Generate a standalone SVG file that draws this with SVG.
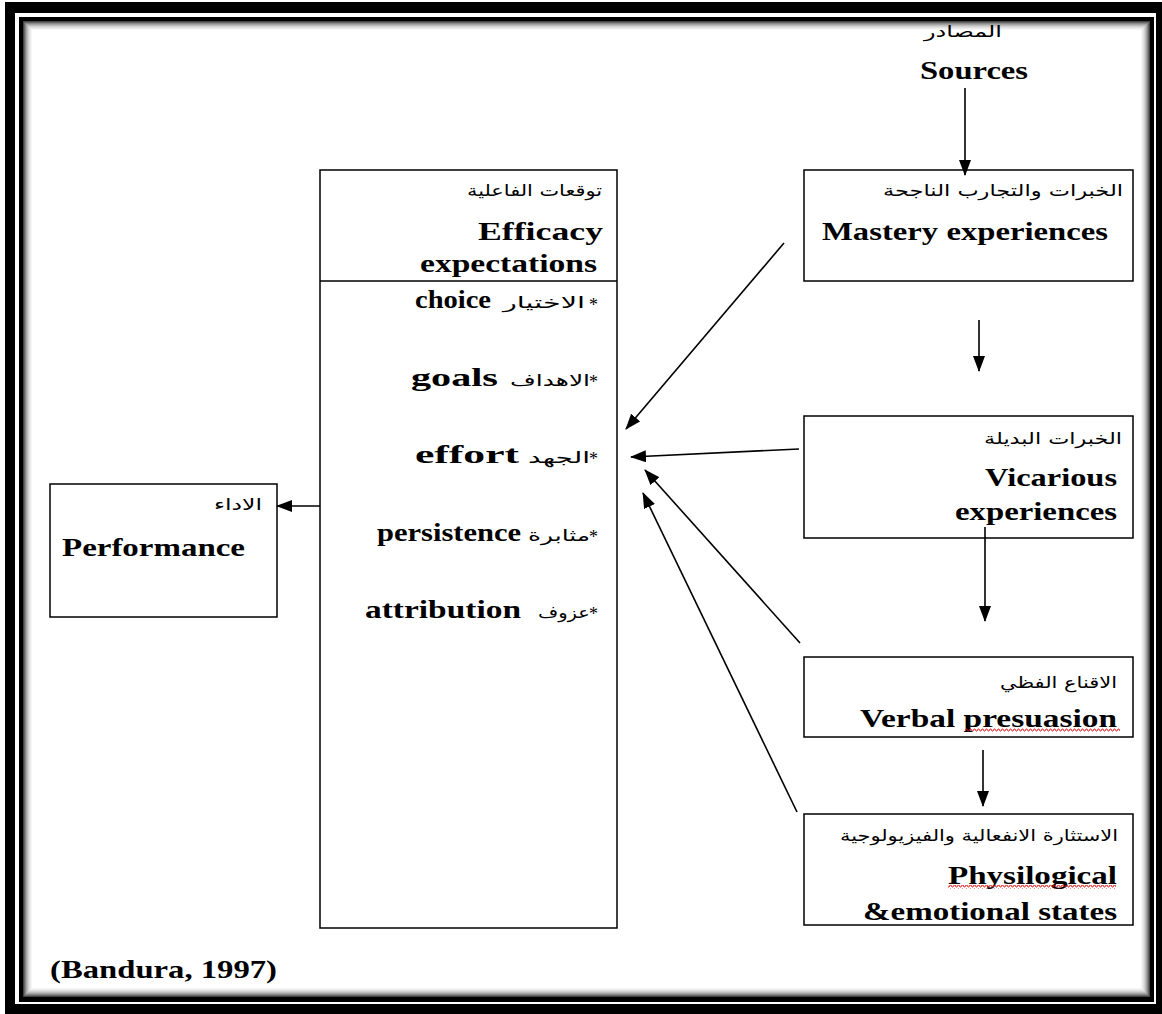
<svg xmlns="http://www.w3.org/2000/svg" width="1162" height="1014" viewBox="0 0 1162 1014">
<style>
.box{fill:#fff;stroke:#000;stroke-width:1.5}
.en{font-family:"Liberation Serif","Times New Roman",serif;font-weight:bold;font-size:25px;fill:#000}
.ar{font-family:"DejaVu Sans","Noto Sans",sans-serif;font-size:16px;fill:#000}
.st{font-family:"Liberation Serif",serif;font-size:18px;fill:#000}
.ln{stroke:#000;stroke-width:1.6;fill:none}
.sq{fill:url(#squig)}
</style>
<defs>
<marker id="ah" markerUnits="userSpaceOnUse" markerWidth="16" markerHeight="12" refX="15" refY="6" orient="auto">
<path d="M0,0 L16,6 L0,12 Z" fill="#000"/>
</marker>
<pattern id="squig" patternUnits="userSpaceOnUse" width="4" height="4">
<polyline points="0,3 1,3 2,1 3,1 4,3" fill="none" stroke="#e01010" stroke-width="0.9"/>
</pattern>
</defs>
<g id="frame">
<rect x="5" y="2" width="1157" height="1012" fill="#000"/>
<rect x="15" y="13" width="1141" height="991" fill="#fff"/>
<rect x="19" y="17" width="1135" height="985" fill="#000"/>
<rect x="23" y="21" width="1127" height="976" fill="#fff"/>
<rect x="23.5" y="21.5" width="1126" height="975" fill="none" stroke="#444"/>
<rect x="24.5" y="22.5" width="1124" height="973" fill="none" stroke="#666"/>
<rect x="25.5" y="23.5" width="1122" height="971" fill="none" stroke="#888"/>
<rect x="26.5" y="24.5" width="1120" height="969" fill="none" stroke="#a4a4a4"/>
<rect x="27.5" y="25.5" width="1118" height="967" fill="none" stroke="#bcbcbc"/>
<rect x="28.5" y="26.5" width="1116" height="965" fill="none" stroke="#d0d0d0"/>
<rect x="29.5" y="27.5" width="1114" height="963" fill="none" stroke="#e0e0e0"/>
<rect x="30.5" y="28.5" width="1112" height="961" fill="none" stroke="#ececec"/>
<rect x="31.5" y="29.5" width="1110" height="959" fill="none" stroke="#f6f6f6"/>
</g>
<g id="sources">
<text class="ar" x="963" y="37" text-anchor="middle" font-size="19" textLength="78" lengthAdjust="spacingAndGlyphs">المصادر</text>
<text class="en" x="920" y="79" textLength="108" lengthAdjust="spacingAndGlyphs">Sources</text>
</g>
<g id="efficacy">
<rect class="box" x="320" y="170" width="297" height="758"/>
<line x1="320" y1="281" x2="617" y2="281" stroke="#000" stroke-width="1.5"/>
<text class="ar" x="602" y="196" text-anchor="end" textLength="135" lengthAdjust="spacingAndGlyphs">توقعات الفاعلية</text>
<text class="en" x="603" y="240" text-anchor="end" textLength="125" lengthAdjust="spacingAndGlyphs">Efficacy</text>
<text class="en" x="597" y="272" text-anchor="end" textLength="177" lengthAdjust="spacingAndGlyphs">expectations</text>
<text class="st" x="598" y="311" text-anchor="end">*</text>
<text class="ar" x="585" y="308" text-anchor="end" textLength="82" lengthAdjust="spacingAndGlyphs">الاختيار</text>
<text class="en" x="491" y="308" text-anchor="end" textLength="76" lengthAdjust="spacingAndGlyphs">choice</text>
<text class="st" x="598" y="388" text-anchor="end">*</text>
<text class="ar" x="590" y="386" text-anchor="end" textLength="80" lengthAdjust="spacingAndGlyphs">الاهداف</text>
<text class="en" x="498" y="386" text-anchor="end" textLength="87" lengthAdjust="spacingAndGlyphs">goals</text>
<text class="st" x="598" y="465" text-anchor="end">*</text>
<text class="ar" x="590" y="463" text-anchor="end" textLength="62" lengthAdjust="spacingAndGlyphs">الجهد</text>
<text class="en" x="519" y="463" text-anchor="end" textLength="104" lengthAdjust="spacingAndGlyphs">effort</text>
<text class="st" x="598" y="543" text-anchor="end">*</text>
<text class="ar" x="590" y="541" text-anchor="end" textLength="62" lengthAdjust="spacingAndGlyphs">مثابرة</text>
<text class="en" x="521" y="541" text-anchor="end" textLength="144" lengthAdjust="spacingAndGlyphs">persistence</text>
<text class="st" x="598" y="620" text-anchor="end">*</text>
<text class="ar" x="590" y="618" text-anchor="end" textLength="52" lengthAdjust="spacingAndGlyphs">عزوف</text>
<text class="en" x="521" y="618" text-anchor="end" textLength="156" lengthAdjust="spacingAndGlyphs">attribution</text>
</g>
<g id="performance">
<rect class="box" x="50" y="484" width="227" height="133"/>
<text class="ar" x="262" y="510" text-anchor="end" textLength="48" lengthAdjust="spacingAndGlyphs">الاداء</text>
<text class="en" x="62" y="556" textLength="183" lengthAdjust="spacingAndGlyphs">Performance</text>
</g>
<g id="mastery">
<rect class="box" x="804" y="170" width="329" height="111"/>
<text class="ar" x="1123" y="196" text-anchor="end" textLength="240" lengthAdjust="spacingAndGlyphs">الخبرات والتجارب الناجحة</text>
<text class="en" x="822" y="240" textLength="286" lengthAdjust="spacingAndGlyphs">Mastery experiences</text>
</g>
<g id="vicarious">
<rect class="box" x="804" y="416" width="329" height="122"/>
<text class="ar" x="1122" y="444" text-anchor="end" textLength="138" lengthAdjust="spacingAndGlyphs">الخبرات البديلة</text>
<text class="en" x="1117" y="486" text-anchor="end" textLength="132" lengthAdjust="spacingAndGlyphs">Vicarious</text>
<text class="en" x="1117" y="520" text-anchor="end" textLength="162" lengthAdjust="spacingAndGlyphs">experiences</text>
</g>
<g id="verbal">
<rect class="box" x="804" y="657" width="329" height="80"/>
<text class="ar" x="1117" y="688" text-anchor="end" textLength="117" lengthAdjust="spacingAndGlyphs">الاقناع الفظي</text>
<text class="en" x="1117" y="727" text-anchor="end" textLength="257" lengthAdjust="spacingAndGlyphs">Verbal presuasion</text>
<rect class="sq" x="965" y="728" width="155" height="4"/>
</g>
<g id="physiological">
<rect class="box" x="804" y="814" width="329" height="111"/>
<text class="ar" x="1118" y="841" text-anchor="end" textLength="278" lengthAdjust="spacingAndGlyphs">الاستثارة الانفعالية والفيزيولوجية</text>
<text class="en" x="1117" y="884" text-anchor="end" textLength="169" lengthAdjust="spacingAndGlyphs">Physilogical</text>
<rect class="sq" x="948" y="885" width="168" height="4"/>
<text class="en" x="1117" y="920" text-anchor="end" textLength="254" lengthAdjust="spacingAndGlyphs">&amp;emotional states</text>
</g>
<g id="citation">
<text class="en" x="50" y="978" font-size="22" textLength="227" lengthAdjust="spacingAndGlyphs">(Bandura, 1997)</text>
</g>
<g id="connectors">
<line class="ln" x1="965" y1="88" x2="965" y2="175" marker-end="url(#ah)"/>
<line class="ln" x1="979" y1="320" x2="979" y2="371" marker-end="url(#ah)"/>
<line class="ln" x1="985" y1="527" x2="985" y2="621" marker-end="url(#ah)"/>
<line class="ln" x1="983" y1="750" x2="983" y2="806" marker-end="url(#ah)"/>
<line class="ln" x1="784" y1="243" x2="626" y2="429" marker-end="url(#ah)"/>
<line class="ln" x1="799" y1="449" x2="631" y2="457" marker-end="url(#ah)"/>
<line class="ln" x1="800" y1="643" x2="645" y2="470" marker-end="url(#ah)"/>
<line class="ln" x1="797" y1="812" x2="643" y2="493" marker-end="url(#ah)"/>
<line class="ln" x1="320" y1="506" x2="277" y2="506" marker-end="url(#ah)"/>
</g>
</svg>
